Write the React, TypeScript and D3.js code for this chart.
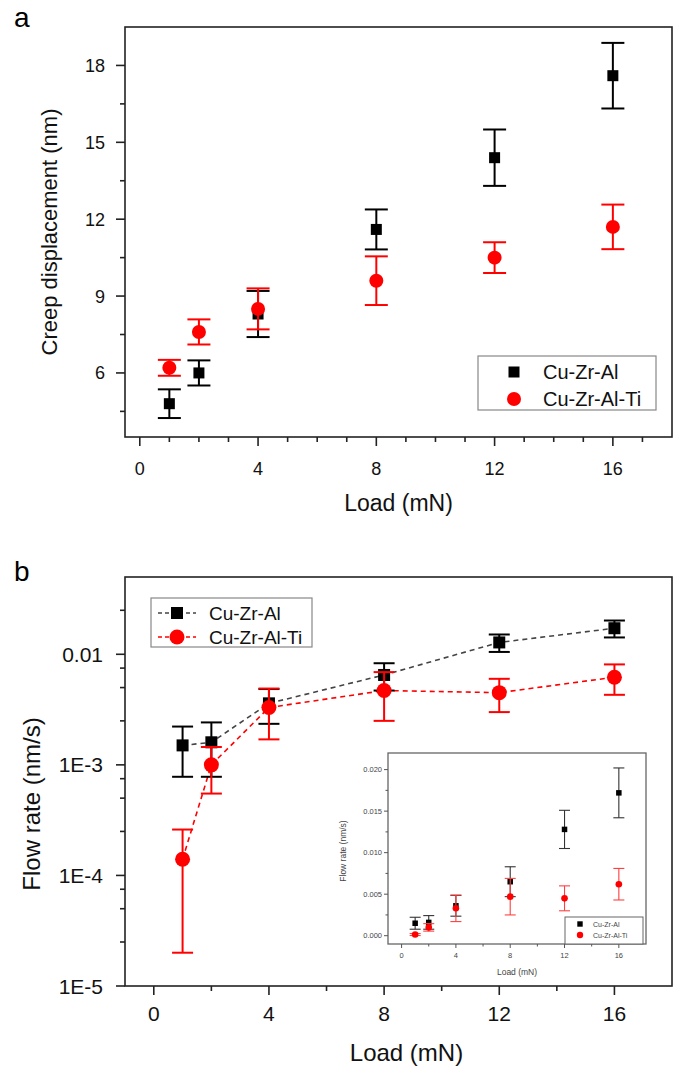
import React from "react";
import * as d3 from "d3";

// ---------- data ----------
const loads = [1, 2, 4, 8, 12, 16];
const seriesNames = ["Cu-Zr-Al", "Cu-Zr-Al-Ti"];

// panel a: creep displacement (nm)
const creepCuZrAl = [4.8, 6.0, 8.3, 11.6, 14.4, 17.6];
const creepCuZrAlErr = [0.56, 0.49, 0.9, 0.78, 1.1, 1.28];
const creepCuZrAlTi = [6.2, 7.6, 8.5, 9.6, 10.5, 11.7];
const creepCuZrAlTiErr = [0.31, 0.49, 0.8, 0.95, 0.6, 0.87];

// panel b: flow rate (nm/s)
const flowCuZrAl = [0.0015, 0.0016, 0.0036, 0.0065, 0.0128, 0.0172];
const flowCuZrAlErr = [0.00072, 0.00082, 0.00125, 0.0018, 0.0023, 0.003];
const flowCuZrAlTi = [0.00014, 0.001, 0.0033, 0.0047, 0.0045, 0.0062];
const flowCuZrAlTiErr = [0.00012, 0.00045, 0.0016, 0.0022, 0.0015, 0.0019];

// ticks
const xMajorTicks = [0, 4, 8, 12, 16];
const xMinorTicksA = [1, 2, 3, 5, 6, 7, 9, 10, 11, 13, 14, 15, 17];
const xMinorTicksB = [2, 6, 10, 14];
const yMajorTicksA = [6, 9, 12, 15, 18];
const yMinorTicksA = [4.5, 7.5, 10.5, 13.5, 16.5];
const yMajorTicksB = [1e-5, 1e-4, 1e-3, 1e-2];
const yMajorLabelsB = ["1E-5", "1E-4", "1E-3", "0.01"];
const yMinorMantissaB = [2.5, 5, 7.5];
const yMajorTicksInset = [0, 0.005, 0.01, 0.015, 0.02];
const yMinorTicksInset = [0.0025, 0.0075, 0.0125, 0.0175];

const FONT = "'Liberation Sans', Arial, Helvetica, sans-serif";
const RED = "#ff0000";
const BLACK = "#000000";

function ErrBars({ x, y, vals, errs, color, cap, sw }) {
  return (
    <g stroke={color} strokeWidth={sw} fill="none">
      {loads.map((L, i) => {
        const cx = x(L);
        const y1 = y(vals[i] + errs[i]);
        const y0 = y(Math.max(vals[i] - errs[i], 1e-9));
        return (
          <g key={i}>
            <line x1={cx} x2={cx} y1={y1} y2={y0} />
            <line x1={cx - cap / 2} x2={cx + cap / 2} y1={y1} y2={y1} />
            <line x1={cx - cap / 2} x2={cx + cap / 2} y1={y0} y2={y0} />
          </g>
        );
      })}
    </g>
  );
}

function Squares({ x, y, vals, size, color }) {
  return (
    <g fill={color}>
      {loads.map((L, i) => (
        <rect key={i} x={x(L) - size / 2} y={y(vals[i]) - size / 2} width={size} height={size} />
      ))}
    </g>
  );
}

function Circles({ x, y, vals, r, color }) {
  return (
    <g fill={color}>
      {loads.map((L, i) => (
        <circle key={i} cx={x(L)} cy={y(vals[i])} r={r} />
      ))}
    </g>
  );
}

function PanelA() {
  const x = d3.scaleLinear().domain([-0.5, 18]).range([125, 672]);
  const y = d3.scaleLinear().domain([3.5, 19.5]).range([437, 27]);
  const [x0, x1] = x.range();
  const [yb, yt] = y.range();
  return (
    <g fontFamily={FONT}>
      <text x={14} y={27} fontSize={28}>a</text>
      {/* error bars + markers */}
      <ErrBars x={x} y={y} vals={creepCuZrAl} errs={creepCuZrAlErr} color={BLACK} cap={23} sw={2} />
      <Squares x={x} y={y} vals={creepCuZrAl} size={11} color={BLACK} />
      <ErrBars x={x} y={y} vals={creepCuZrAlTi} errs={creepCuZrAlTiErr} color={RED} cap={23} sw={2} />
      <Circles x={x} y={y} vals={creepCuZrAlTi} r={7} color={RED} />
      {/* frame */}
      <rect x={x0} y={yt} width={x1 - x0} height={yb - yt} fill="none" stroke="#222" strokeWidth={1.6} />
      {/* x ticks */}
      <g stroke="#222" strokeWidth={1.6}>
        {xMajorTicks.map((t) => (
          <line key={t} x1={x(t)} x2={x(t)} y1={yb} y2={yb + 9} />
        ))}
        {xMinorTicksA.map((t) => (
          <line key={"m" + t} x1={x(t)} x2={x(t)} y1={yb} y2={yb + 5} />
        ))}
        {yMajorTicksA.map((t) => (
          <line key={"y" + t} x1={x0} x2={x0 - 9} y1={y(t)} y2={y(t)} />
        ))}
        {yMinorTicksA.map((t) => (
          <line key={"ym" + t} x1={x0} x2={x0 - 5} y1={y(t)} y2={y(t)} />
        ))}
      </g>
      <g fontSize={18} fill="#111">
        {xMajorTicks.map((t) => (
          <text key={t} x={x(t)} y={475} textAnchor="middle">{t}</text>
        ))}
        {yMajorTicksA.map((t) => (
          <text key={t} x={105} y={y(t) + 6.5} textAnchor="end">{t}</text>
        ))}
      </g>
      <text x={(x0 + x1) / 2} y={511} fontSize={23} textAnchor="middle" fill="#111">Load (mN)</text>
      <text transform={`translate(57, ${(yt + yb) / 2}) rotate(-90)`} fontSize={22} textAnchor="middle" fill="#111">
        Creep displacement (nm)
      </text>
      {/* legend */}
      <rect x={478} y={356} width={178} height={54} fill="white" stroke="#888" strokeWidth={1.2} />
      <rect x={514 - 5.5} y={372 - 5.5} width={11} height={11} fill={BLACK} />
      <circle cx={514} cy={399} r={7} fill={RED} />
      <text x={543} y={379} fontSize={20} fill="#111">{seriesNames[0]}</text>
      <text x={543} y={406} fontSize={20} fill="#111">{seriesNames[1]}</text>
    </g>
  );
}

function PanelB() {
  const x = d3.scaleLinear().domain([-1, 18]).range([125, 672]);
  const y = d3.scaleLog().domain([1e-5, 0.05]).range([986, 577]);
  const [x0, x1] = x.range();
  const [yb, yt] = y.range();
  const [dLo, dHi] = y.domain();
  const minors: number[] = [];
  for (let e = -5; e <= -2; e++) {
    yMinorMantissaB.forEach((m) => {
      const v = m * Math.pow(10, e);
      if (v > dLo && v < dHi) minors.push(v);
    });
  }
  const line = d3
    .line<number>()
    .x((_, i) => x(loads[i]))
    .y((v) => y(v));

  // inset
  const xi = d3.scaleLinear().domain([-1, 18]).range([388, 646]);
  const yi = d3.scaleLinear().domain([-0.001, 0.022]).range([944, 753]);
  const [ix0, ix1] = xi.range();
  const [iyb, iyt] = yi.range();

  return (
    <g fontFamily={FONT}>
      <text x={14} y={581} fontSize={28}>b</text>
      {/* dashed connecting lines */}
      <path d={line(flowCuZrAl) || ""} fill="none" stroke="#444" strokeWidth={1.6} strokeDasharray="5,4" />
      <path d={line(flowCuZrAlTi) || ""} fill="none" stroke={RED} strokeWidth={1.6} strokeDasharray="5,4" />
      <ErrBars x={x} y={y} vals={flowCuZrAl} errs={flowCuZrAlErr} color={BLACK} cap={21} sw={2} />
      <Squares x={x} y={y} vals={flowCuZrAl} size={12} color={BLACK} />
      <ErrBars x={x} y={y} vals={flowCuZrAlTi} errs={flowCuZrAlTiErr} color={RED} cap={21} sw={2} />
      <Circles x={x} y={y} vals={flowCuZrAlTi} r={7.5} color={RED} />
      {/* frame */}
      <rect x={x0} y={yt} width={x1 - x0} height={yb - yt} fill="none" stroke="#222" strokeWidth={1.6} />
      <g stroke="#222" strokeWidth={1.6}>
        {xMajorTicks.map((t) => (
          <line key={t} x1={x(t)} x2={x(t)} y1={yb} y2={yb + 9} />
        ))}
        {xMinorTicksB.map((t) => (
          <line key={"m" + t} x1={x(t)} x2={x(t)} y1={yb} y2={yb + 5} />
        ))}
        {yMajorTicksB.map((t) => (
          <line key={"y" + t} x1={x0} x2={x0 - 9} y1={y(t)} y2={y(t)} />
        ))}
        {minors.map((t) => (
          <line key={"ym" + t} x1={x0} x2={x0 - 5} y1={y(t)} y2={y(t)} />
        ))}
      </g>
      <g fontSize={21} fill="#111">
        {xMajorTicks.map((t) => (
          <text key={t} x={x(t)} y={1021} textAnchor="middle">{t}</text>
        ))}
        {yMajorTicksB.map((t, i) => (
          <text key={t} x={103} y={y(t) + 7.5} textAnchor="end">{yMajorLabelsB[i]}</text>
        ))}
      </g>
      <text x={(x0 + x1) / 2 + 8} y={1061} fontSize={24} textAnchor="middle" fill="#111">Load (mN)</text>
      <text transform={`translate(40, 804) rotate(-90)`} fontSize={24} textAnchor="middle" fill="#111">
        Flow rate (nm/s)
      </text>
      {/* legend */}
      <rect x={151} y={598} width={161} height={49} fill="white" stroke="#888" strokeWidth={1.2} />
      <line x1={158} x2={196} y1={613} y2={613} stroke="#444" strokeWidth={1.5} strokeDasharray="4,3" />
      <rect x={177 - 6} y={613 - 6} width={12} height={12} fill={BLACK} />
      <line x1={158} x2={196} y1={637} y2={637} stroke={RED} strokeWidth={1.5} strokeDasharray="4,3" />
      <circle cx={177} cy={637} r={7.5} fill={RED} />
      <text x={209} y={620} fontSize={19} fill="#111">{seriesNames[0]}</text>
      <text x={209} y={644} fontSize={19} fill="#111">{seriesNames[1]}</text>

      {/* inset */}
      <rect x={ix0} y={iyt} width={ix1 - ix0} height={iyb - iyt} fill="white" stroke="#666" strokeWidth={1.3} />
      <ErrBars x={xi} y={yi} vals={flowCuZrAl} errs={flowCuZrAlErr} color="#333" cap={11} sw={1.1} />
      <Squares x={xi} y={yi} vals={flowCuZrAl} size={5.5} color={BLACK} />
      <ErrBars x={xi} y={yi} vals={flowCuZrAlTi} errs={flowCuZrAlTiErr} color="#ff4040" cap={11} sw={1.1} />
      <Circles x={xi} y={yi} vals={flowCuZrAlTi} r={3.3} color={RED} />
      <g stroke="#555" strokeWidth={1}>
        {xMajorTicks.map((t) => (
          <line key={t} x1={xi(t)} x2={xi(t)} y1={iyb} y2={iyb + 4} />
        ))}
        {xMinorTicksB.map((t) => (
          <line key={"m" + t} x1={xi(t)} x2={xi(t)} y1={iyb} y2={iyb + 2.5} />
        ))}
        {yMajorTicksInset.map((t) => (
          <line key={"y" + t} x1={ix0} x2={ix0 - 4} y1={yi(t)} y2={yi(t)} />
        ))}
        {yMinorTicksInset.map((t) => (
          <line key={"ym" + t} x1={ix0} x2={ix0 - 2.5} y1={yi(t)} y2={yi(t)} />
        ))}
      </g>
      <g fontSize={7.5} fill="#444">
        {xMajorTicks.map((t) => (
          <text key={t} x={xi(t)} y={958} textAnchor="middle">{t}</text>
        ))}
        {yMajorTicksInset.map((t) => (
          <text key={t} x={382} y={yi(t) + 2.7} textAnchor="end">{d3.format(".3f")(t)}</text>
        ))}
      </g>
      <text x={(ix0 + ix1) / 2} y={975} fontSize={8.5} textAnchor="middle" fill="#444">Load (mN)</text>
      <text transform={`translate(346, 851) rotate(-90)`} fontSize={8.5} textAnchor="middle" fill="#444">
        Flow rate (nm/s)
      </text>
      <rect x={565} y={917} width={78} height={27} fill="white" stroke="#666" strokeWidth={1} />
      <rect x={580 - 2.7} y={924 - 2.7} width={5.4} height={5.4} fill={BLACK} />
      <circle cx={580} cy={935} r={3.2} fill={RED} />
      <text x={593} y={926.5} fontSize={7} fill="#444">{seriesNames[0]}</text>
      <text x={593} y={937.5} fontSize={7} fill="#444">{seriesNames[1]}</text>
    </g>
  );
}

export default function App() {
  return (
    <svg
      width={678}
      height={1066}
      viewBox="0 0 678 1066"
      style={{ position: "absolute", left: 0, top: 0, background: "white" }}
    >
      <rect x={0} y={0} width={678} height={1066} fill="white" />
      <PanelA />
      <PanelB />
    </svg>
  );
}
